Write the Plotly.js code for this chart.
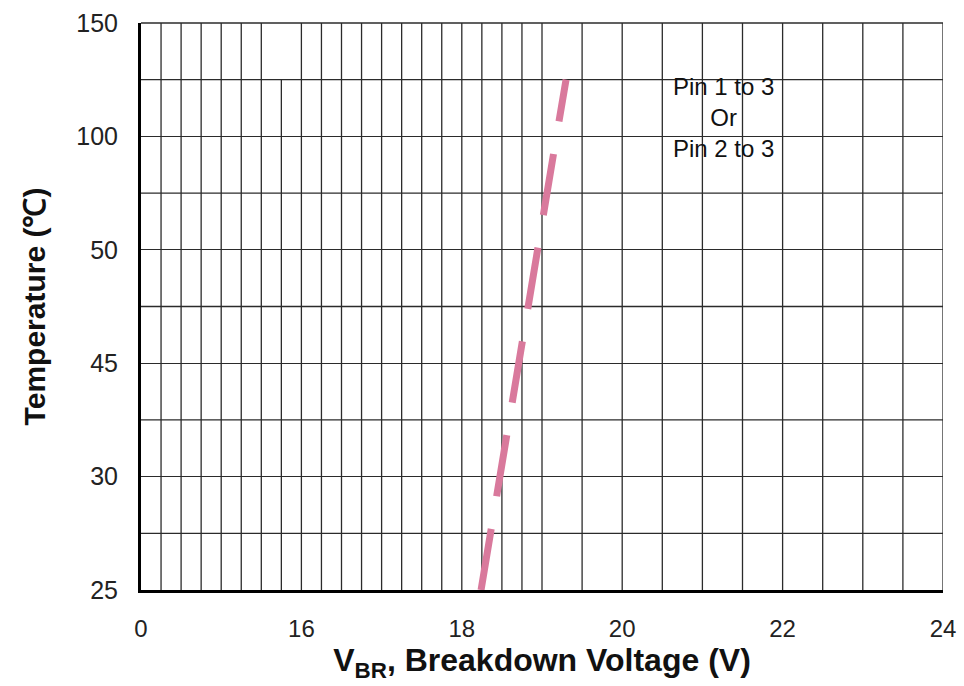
<!DOCTYPE html>
<html>
<head>
<meta charset="utf-8">
<script src="https://cdn.plot.ly/plotly-3.0.1.min.js"></script>
<style>html,body{margin:0;padding:0;background:#fff;}#chart{width:964px;height:686px;}</style>
</head>
<body>
<div id="chart"></div>
<script>
// ---- data ----
const tempCategories = ['25', '27.5', '30', '37.5', '45', '47.5', '50', '75', '100', '125', '150'];
const tempTickVals = ['25', '30', '45', '50', '100', '150'];
const tempMidLines = ['27.5', '37.5', '47.5', '75', '125'];
const voltTickVals = [14, 16, 18, 20, 22, 24];
const voltTickText = ['0', '16', '18', '20', '22', '24'];
const curveTemps = ['25', '30', '45', '50', '100', '125'];
const curveVolts = [18.24, 18.47, 18.71, 18.95, 19.18, 19.30];

// ---- grid shapes ----
const gridColor = '#2b2b2b';
const shapes = [];
function vline(x, y0, y1) {
  shapes.push({type: 'line', xref: 'x', yref: 'paper', x0: x, x1: x, y0: y0, y1: y1,
    line: {color: gridColor, width: 1.3}, layer: 'below'});
}
for (let i = 1; i <= 20; i++) {
  const x = 14 + i * 0.25;
  if (Math.abs(x - 15.75) < 1e-6) vline(x, 0, 0.9); else vline(x, 0, 1);
}
for (let i = 1; i <= 10; i++) vline(19 + i * 0.5, 0, 1);
tempMidLines.forEach(c => {
  const idx = tempCategories.indexOf(c);
  shapes.push({type: 'line', xref: 'paper', yref: 'y', x0: 0, x1: 1, y0: idx, y1: idx,
    line: {color: gridColor, width: 1.3}, layer: 'below'});
});
shapes.push({type: 'line', xref: 'paper', yref: 'paper', x0: 0, x1: 1, y0: 1, y1: 1,
  line: {color: gridColor, width: 1.3}});

const trace = {
  x: curveVolts,
  y: curveTemps,
  type: 'scatter',
  mode: 'lines',
  line: {color: '#d9799c', width: 7, dash: '62px,33px'},
  hoverinfo: 'skip',
  showlegend: false
};

const titleFont = {color: '#111', family: 'Liberation Sans, Arial, sans-serif', weight: 'bold'};

const layout = {
  width: 964, height: 686,
  margin: {l: 141, r: 21, t: 23, b: 96},
  paper_bgcolor: '#ffffff',
  plot_bgcolor: '#ffffff',
  font: {family: 'Liberation Sans, Arial, sans-serif', color: '#1a1a1a'},
  xaxis: {
    range: [14, 24],
    tickvals: voltTickVals,
    ticktext: voltTickText,
    showgrid: false,
    zeroline: false,
    showline: true, linecolor: '#000', linewidth: 3,
    ticks: '', ticklabelstandoff: 15,
    tickfont: {size: 24, color: '#222'},
    title: {text: 'V<sub>BR</sub>, Breakdown Voltage (V)', font: Object.assign({size: 32}, titleFont), standoff: 5}
  },
  yaxis: {
    type: 'category',
    categoryorder: 'array',
    categoryarray: tempCategories,
    range: [0, 10],
    tickvals: tempTickVals,
    ticktext: tempTickVals,
    showgrid: true, gridcolor: gridColor, gridwidth: 1.3,
    zeroline: false,
    showline: true, linecolor: '#000', linewidth: 3,
    ticks: '', ticklabelstandoff: 15,
    tickfont: {size: 25, color: '#222'},
    title: {text: 'Temperature (℃)', font: Object.assign({size: 30}, titleFont), standoff: 22}
  },
  shapes: shapes,
  annotations: [{
    xref: 'x', yref: 'paper', x: 21.26, y: 0.834, yanchor: 'middle', xanchor: 'center',
    text: 'Pin 1 to 3<br>Or<br>Pin 2 to 3',
    showarrow: false, align: 'center',
    font: {size: 24, color: '#111', family: 'Liberation Sans, Arial, sans-serif'}
  }]
};

Plotly.newPlot('chart', [trace], layout, {displayModeBar: false, staticPlot: true});
</script>
</body>
</html>
